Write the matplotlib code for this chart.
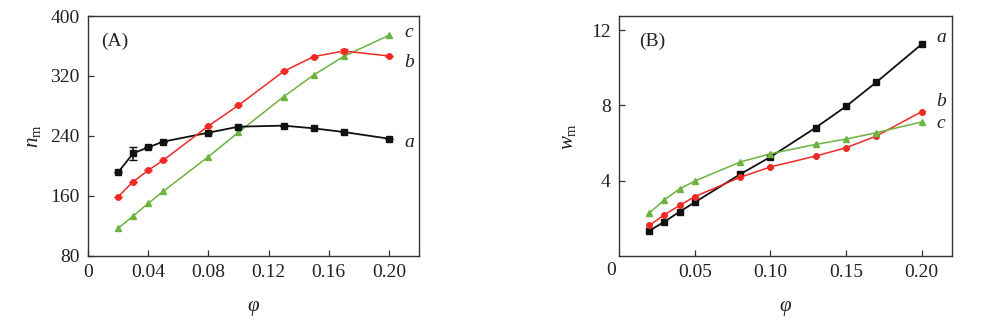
import numpy as np
import matplotlib.pyplot as plt

plt.rcParams['font.family'] = ['Liberation Serif', 'DejaVu Serif']
plt.rcParams['mathtext.fontset'] = 'custom'
plt.rcParams['mathtext.rm'] = 'Liberation Serif'
plt.rcParams['mathtext.it'] = 'Liberation Serif:italic'

phi = [0.02, 0.03, 0.04, 0.05, 0.08, 0.10, 0.13, 0.15, 0.17, 0.20]

# panel A: n_m
n_a = [191.6, 216.9, 224.9, 232.4, 244.4, 252.4, 253.8, 250.2, 245.3, 236.4]
n_b = [159.1, 179.1, 194.2, 207.6, 253.3, 280.9, 326.2, 345.8, 353.3, 346.7]
n_c = [116.9, 133.3, 150.2, 166.2, 212.4, 244.9, 292.4, 321.3, 346.2, 374.2]
n_a_err = [0, 9, 0, 0, 0, 0, 0, 0, 0, 0]
n_b_err = [0, 0, 0, 0, 0, 0, 0, 0, 3, 0]

# panel B: w_m
w_a = [1.34, 1.82, 2.35, 2.85, 4.34, 5.26, 6.82, 7.95, 9.23, 11.25]
w_b = [1.62, 2.19, 2.69, 3.15, 4.18, 4.73, 5.31, 5.75, 6.37, 7.67]
w_c = [2.28, 2.99, 3.56, 3.98, 4.99, 5.43, 5.93, 6.21, 6.55, 7.12]

black, red, green = '#111111', '#ee2a24', '#6cb33f'
fs = 14
txt = '#222222'

fig = plt.figure(figsize=(9.87, 3.32), dpi=100)
axA = fig.add_axes([0.0892, 0.229, 0.3353, 0.7228])
axB = fig.add_axes([0.6272, 0.229, 0.3373, 0.7228])

def style(ax):
    ax.tick_params(direction='in', length=4, width=0.9, labelsize=fs, pad=6,
                   labelcolor=txt, color='#333333')
    for s in ax.spines.values():
        s.set_linewidth(1.0)
        s.set_color('#333333')
    ax.set_xlabel(r'$\varphi$', fontsize=fs + 1, labelpad=13, color=txt)

# (A)
axA.errorbar(phi, n_a, yerr=n_a_err, color=black, marker='s', ms=4.5, lw=1.3, capsize=3, elinewidth=1.1)
axA.errorbar(phi, n_b, yerr=n_b_err, color=red, marker='o', ms=4, lw=1.1, capsize=3, elinewidth=1.0)
axA.plot(phi, n_c, color=green, marker='^', ms=5, lw=1.1)
axA.set_xlim(0, 0.22)
axA.set_ylim(80, 400)
axA.set_xticks([0, 0.04, 0.08, 0.12, 0.16, 0.20])
axA.set_xticklabels(['0', '0.04', '0.08', '0.12', '0.16', '0.20'])
axA.set_yticks([80, 160, 240, 320, 400])
style(axA)
axA.set_ylabel(r'$n_{\mathrm{m}}$', fontsize=fs + 1, labelpad=5, color=txt)
axA.text(0.04, 0.93, '(A)', transform=axA.transAxes, fontsize=fs, va='top', color=txt)
axA.text(0.2105, 231, 'a', fontsize=fs, style='italic', va='center', color=txt)
axA.text(0.2105, 338, 'b', fontsize=fs, style='italic', va='center', color=txt)
axA.text(0.2105, 378, 'c', fontsize=fs, style='italic', va='center', color=txt)

# (B)
axB.plot(phi, w_a, color=black, marker='s', ms=4.5, lw=1.3)
axB.plot(phi, w_b, color=red, marker='o', ms=4, lw=1.1)
axB.plot(phi, w_c, color=green, marker='^', ms=5, lw=1.1)
axB.set_xlim(0, 0.22)
axB.set_ylim(0, 12.75)
axB.set_xticks([0.05, 0.10, 0.15, 0.20])
axB.set_xticklabels(['0.05', '0.10', '0.15', '0.20'])
axB.set_yticks([4, 8, 12])
style(axB)
axB.set_ylabel(r'$w_{\mathrm{m}}$', fontsize=fs + 1, labelpad=9, color=txt)
axB.text(-0.025, -0.06, '0', transform=axB.transAxes, fontsize=fs, ha='center', va='center', color=txt)
axB.text(0.06, 0.93, '(B)', transform=axB.transAxes, fontsize=fs, va='top', color=txt)
axB.text(0.2095, 11.6, 'a', fontsize=fs, style='italic', va='center', color=txt)
axB.text(0.2095, 8.2, 'b', fontsize=fs, style='italic', va='center', color=txt)
axB.text(0.2095, 7.05, 'c', fontsize=fs, style='italic', va='center', color=txt)

fig.savefig('out.png', dpi=100)
